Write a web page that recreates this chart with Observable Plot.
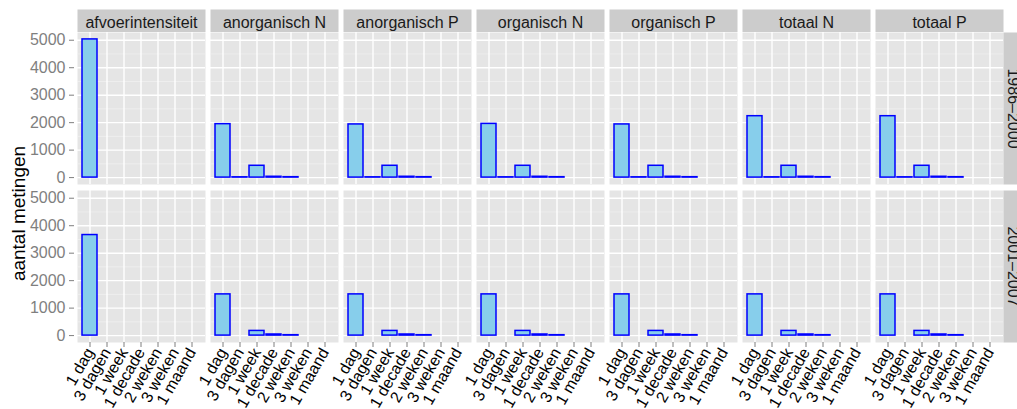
<!DOCTYPE html>
<html>
<head>
<meta charset="utf-8">
<script src="https://cdn.jsdelivr.net/npm/d3@7"></script>
<script src="https://cdn.jsdelivr.net/npm/@observablehq/plot@0.6"></script>
<style>
  html, body { margin: 0; padding: 0; background: #ffffff; }
  #chart svg { display: block; }
</style>
</head>
<body>
<div id="chart"></div>
<script>
// ---- data ----
const intervals = ["1 dag", "3 dagen", "1 week", "1 decade", "2 weken", "3 weken", "1 maand"];
const variables = ["afvoerintensiteit", "anorganisch N", "anorganisch P", "organisch N", "organisch P", "totaal N", "totaal P"];
const periods = ["1986–2000", "2001–2007"];

// counts per variable (rows) and interval (columns); null = no bar
const counts1986 = [
  [5030, null, null, null, null, null, null],
  [1945, 10, 430, 30, 15, null, null],
  [1935, 10, 430, 30, 15, null, null],
  [1955, 10, 430, 30, 15, null, null],
  [1935, 10, 430, 30, 15, null, null],
  [2235, 10, 430, 30, 15, null, null],
  [2235, 10, 430, 30, 15, null, null]
];
const counts2001 = [
  [3660, null, null, null, null, null, null],
  [1500, null, 170, 40, 15, null, null],
  [1500, null, 170, 40, 15, null, null],
  [1500, null, 170, 40, 15, null, null],
  [1500, null, 170, 40, 15, null, null],
  [1500, null, 170, 40, 15, null, null],
  [1500, null, 170, 40, 15, null, null]
];
const yTicks = [0, 1000, 2000, 3000, 4000, 5000];
const yMinor = [500, 1500, 2500, 3500, 4500];
const yLabel = "aantal metingen";

// ---- tidy table built from the arrays ----
const countsByPeriod = [counts1986, counts2001];
const rows = [];
periods.forEach((p, pi) => {
  variables.forEach((v, vi) => {
    intervals.forEach((iv, ii) => {
      const c = countsByPeriod[pi][vi][ii];
      if (c != null) rows.push({period: p, variable: v, interval: iv, count: c});
    });
  });
});
const maxCount = d3.max(rows, d => d.count);

// ---- layout ----
const W = 1017, H = 409;
const mTop = 32, mBottom = 66, mLeft = 77, mRight = 14;
const gapX = 5, gapY = 6;
const innerW = W - mLeft - mRight, innerH = H - mTop - mBottom;
const pX = (gapX * variables.length) / (innerW + gapX);
const pY = (gapY * periods.length) / (innerH + gapY);
const bandW = (innerW - gapX * (variables.length - 1)) / variables.length;
const bandH = (innerH - gapY * (periods.length - 1)) / periods.length;
const stripH = 23, stripW = 20;

const font = "'Liberation Sans', Arial, Helvetica, sans-serif";

const chart = Plot.plot({
  width: W,
  height: H,
  marginTop: mTop,
  marginBottom: mBottom,
  marginLeft: mLeft,
  marginRight: mRight,
  style: {fontFamily: font, background: "#ffffff", overflow: "hidden"},
  fx: {domain: variables, paddingInner: pX, paddingOuter: 0, label: null, axis: null},
  fy: {domain: periods, paddingInner: pY, paddingOuter: 0, label: null, axis: null},
  x: {domain: intervals, paddingInner: 0.1, paddingOuter: 0.15, label: null},
  y: {domain: [-0.05 * maxCount, 1.05 * maxCount], label: null},
  marks: [
    // panel backgrounds
    Plot.frame({fill: "#e5e5e5"}),
    // strips
    Plot.frame({fill: "#cccccc", facetAnchor: "top", insetTop: -stripH, insetBottom: bandH}),
    Plot.frame({fill: "#cccccc", facetAnchor: "right", insetLeft: bandW, insetRight: -stripW}),
    Plot.text(variables, {fx: d => d, text: d => d, frameAnchor: "top", dy: -5, lineAnchor: "bottom",
      facetAnchor: "top", fontSize: 16, fill: "#1a1a1a"}),
    Plot.text(periods, {fy: d => d, text: d => d, frameAnchor: "right", dx: 10, rotate: 90,
      lineAnchor: "middle", textAnchor: "middle", facetAnchor: "right", fontSize: 16, fill: "#1a1a1a"}),
    // grid
    Plot.gridY(yMinor, {stroke: "#f2f2f2", strokeOpacity: 1, strokeWidth: 0.7}),
    Plot.gridY(yTicks, {stroke: "#ffffff", strokeOpacity: 1, strokeWidth: 1.4}),
    Plot.gridX({stroke: "#ffffff", strokeOpacity: 1, strokeWidth: 1.4}),
    // bars
    Plot.barY(rows, {fx: "variable", fy: "period", x: "interval", y: "count",
      fill: "#87ceeb", stroke: "#0000ff", strokeWidth: 1.5}),
    // axes
    Plot.axisY(yTicks, {tickSize: 5, tickPadding: 4, dx: -3, fontSize: 16, tickFormat: d3.format("d"),
      stroke: "#7f7f7f", fill: "#7f7f7f", label: null}),
    Plot.axisX({tickSize: 5, tickPadding: 2, tickRotate: -60, fontSize: 16,
      stroke: "#7f7f7f", fill: "#000000", label: null}),
    // y axis title
    Plot.text([yLabel], {facet: "super", frameAnchor: "left", dx: -59, dy: 26, rotate: -90,
      textAnchor: "middle", lineAnchor: "middle", fontSize: 19, fill: "#000000"})
  ]
});

document.getElementById("chart").appendChild(chart);
</script>
</body>
</html>
